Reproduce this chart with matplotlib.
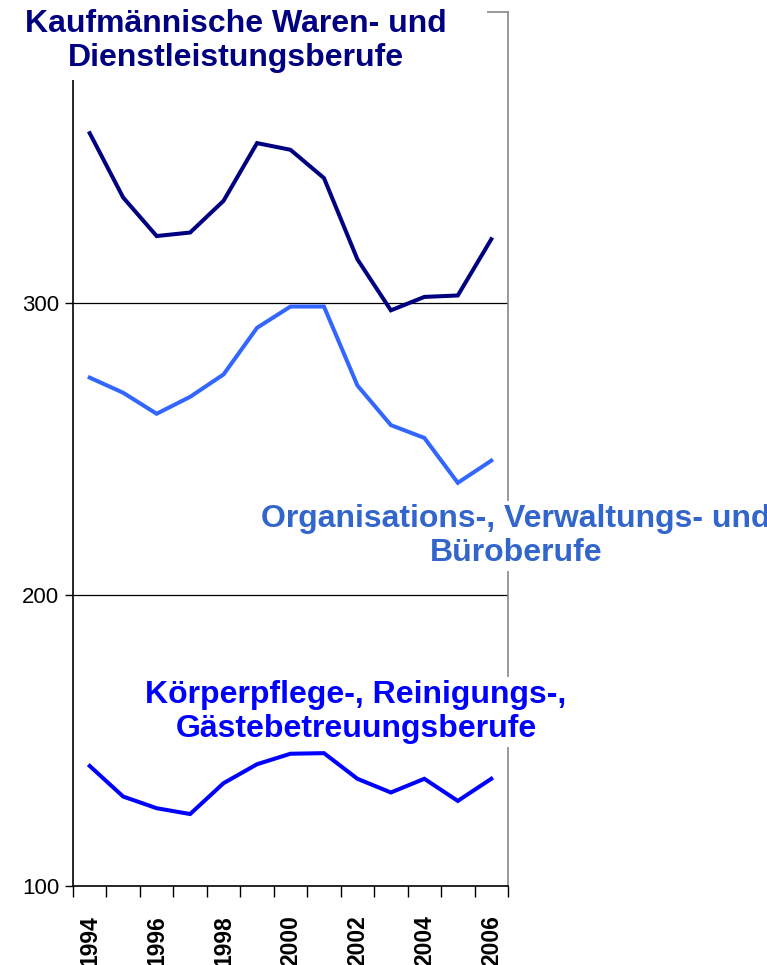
import numpy as np
import matplotlib.pyplot as plt
from matplotlib.patches import Rectangle

plt.rcParams['font.family'] = ['Liberation Sans', 'DejaVu Sans']

##==============================================================================
years = [1994, 1995, 1996, 1997, 1998, 1999, 2000, 2001, 2002, 2003, 2004, 2005, 2006]
kaufm = [358.4, 336.3, 323.1, 324.3, 335.2, 355.0, 352.7, 343.0, 315.1, 297.6, 302.2, 302.7, 322.0]
buero = [274.5, 269.3, 262.1, 267.9, 275.6, 291.6, 298.9, 298.9, 271.8, 258.2, 253.8, 238.4, 246.0]
koerper = [141.2, 130.7, 126.7, 124.7, 135.3, 141.8, 145.4, 145.6, 136.8, 132.1, 136.8, 129.2, 136.8]
yticks = [100, 200, 300]

##==============================================================================
W, H = 767, 965
fig = plt.figure(figsize=(W/100, H/100), dpi=100)
ax = fig.add_axes([73/W, 1-886/H, (508-73)/W, (886-12)/H])

x = np.arange(len(years))
ax.plot(x, kaufm, color='#000080', lw=2.9, solid_joinstyle='miter', zorder=3)
ax.plot(x, buero, color='#3366FF', lw=2.9, solid_joinstyle='miter', zorder=3)
ax.plot(x, koerper, color='#0000FF', lw=2.9, solid_joinstyle='miter', zorder=3)

ax.set_xlim(-0.5, len(years)-0.5)
ax.set_ylim(100, 400)
ax.set_yticks(yticks)
ax.set_yticklabels([str(v) for v in yticks], fontsize=16)
for v in yticks[1:]:
    ax.axhline(v, color='black', lw=0.9, zorder=1)

ax.set_xticks(np.arange(-0.5, len(years)), minor=False)
ax.set_xticklabels([])
ax.set_xticks(x[::2], minor=True)
ax.set_xticklabels([str(y) for y in years[::2]], minor=True, rotation=90,
                   fontsize=16.5, fontweight='bold', va='top')
ax.tick_params(axis='x', which='major', length=8, width=1, direction='out')
ax.tick_params(axis='x', which='minor', length=0, pad=21)
ax.tick_params(axis='y', length=6, width=1, direction='out', pad=4)

ax.spines['left'].set_linewidth(1.2)
ax.spines['bottom'].set_linewidth(1.2)
for s in ['top', 'right']:
    ax.spines[s].set_color('#888888')
    ax.spines[s].set_linewidth(1.2)

# white box behind the top title
fig.patches.append(Rectangle((0, 1-80/H), 487/W, 80/H, transform=fig.transFigure,
                             facecolor='white', edgecolor='none', zorder=5))

fig.text(236/W, 1-41/H, 'Kaufmännische Waren- und\nDienstleistungsberufe',
         color='#000080', fontsize=23, fontweight='bold', ha='center', va='center',
         multialignment='center', linespacing=1.15, zorder=6)
fig.text(516/W, 1-536/H, 'Organisations-, Verwaltungs- und\nBüroberufe',
         color='#3366CC', fontsize=23, fontweight='bold', ha='center', va='center',
         multialignment='center', linespacing=1.15, zorder=6,
         bbox=dict(facecolor='white', edgecolor='none', pad=2))
fig.text(356/W, 1-712/H, 'Körperpflege-, Reinigungs-,\nGästebetreuungsberufe',
         color='#0000FF', fontsize=23, fontweight='bold', ha='center', va='center',
         multialignment='center', linespacing=1.15, zorder=6,
         bbox=dict(facecolor='white', edgecolor='none', pad=2))

fig.savefig('out.png', dpi=100)
